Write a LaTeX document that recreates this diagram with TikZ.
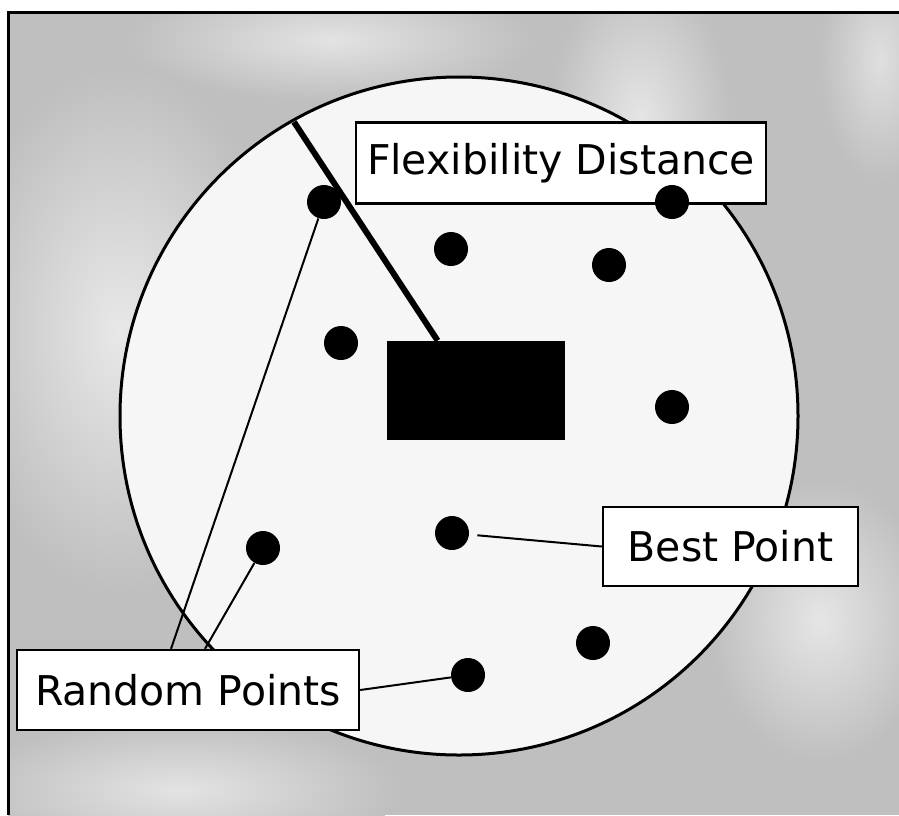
\documentclass[tikz,border=0pt]{standalone}
\usepackage{fontspec}
\setmainfont{DejaVu Sans}

\begin{document}
\begin{tikzpicture}[x=0.5pt, y=-0.5pt,
  dot/.style={circle, fill=black, inner sep=0pt, minimum size=17pt},
  tag/.style={draw=black, line width=1.2pt, fill=white, inner sep=0pt,
    font=\fontsize{20.5}{24}\selectfont},
  pointer/.style={line width=1pt}]

  \useasboundingbox (0,0) rectangle (899,815);

  % mottled background
  \begin{scope}
    \clip (8,12) rectangle (899,815);
    \fill[gray!50] (8,12) rectangle (899,815);
    \shade[inner color=gray!18, outer color=gray!50] (120,330) circle [x radius=160, y radius=260];
    \shade[inner color=gray!20, outer color=gray!50] (640,120) circle [x radius=90, y radius=150];
    \shade[inner color=gray!22, outer color=gray!50] (330,40) circle [x radius=200, y radius=60];
    \shade[inner color=gray!20, outer color=gray!50] (820,620) circle [x radius=110, y radius=140];
    \shade[inner color=gray!22, outer color=gray!50] (180,790) circle [x radius=220, y radius=70];
    \shade[inner color=gray!25, outer color=gray!50] (880,60) circle [x radius=60, y radius=120];
  \end{scope}
  \draw[line width=1.5pt] (8,815) -- (8,12) -- (899,12);

  % search region
  \draw[line width=1.5pt, fill=gray!7] (459,416) circle [radius=339];

  \node[fill=black, inner sep=0pt, minimum width=89pt, minimum height=49.5pt] (obst) at (476,390.5) {};

  % flexibility distance
  \coordinate (rim) at (294,122);
  \draw[line width=3pt] (rim) -- ([xshift=25.5pt]obst.north west);
  \node[tag, minimum width=205pt, minimum height=40.5pt] (flex) at (561,163) {Flexibility Distance};

  \foreach \n/\x/\y in {a/324/202, b/451/249, c/609/265, d/672/202, e/341/343,
                        f/672/407, g/452/533, h/263/548, i/468/675, j/593/643}
    \node[dot] (\n) at (\x,\y) {};

  % labels
  \node[tag, minimum width=171pt, minimum height=40pt] (rand) at (188,690) {Random Points};
  \node[tag, minimum width=127.5pt, minimum height=39.5pt] (best) at (730.5,546.5) {Best Point};

  \draw[pointer] ([xshift=-8.5pt]rand.north) -- (a);
  \draw[pointer] ([xshift=8.5pt]rand.north) -- (h);
  \draw[pointer] (rand.east) -- (i);
  \draw[pointer, shorten >=4pt] (best.west) -- (g);

\end{tikzpicture}
\end{document}
